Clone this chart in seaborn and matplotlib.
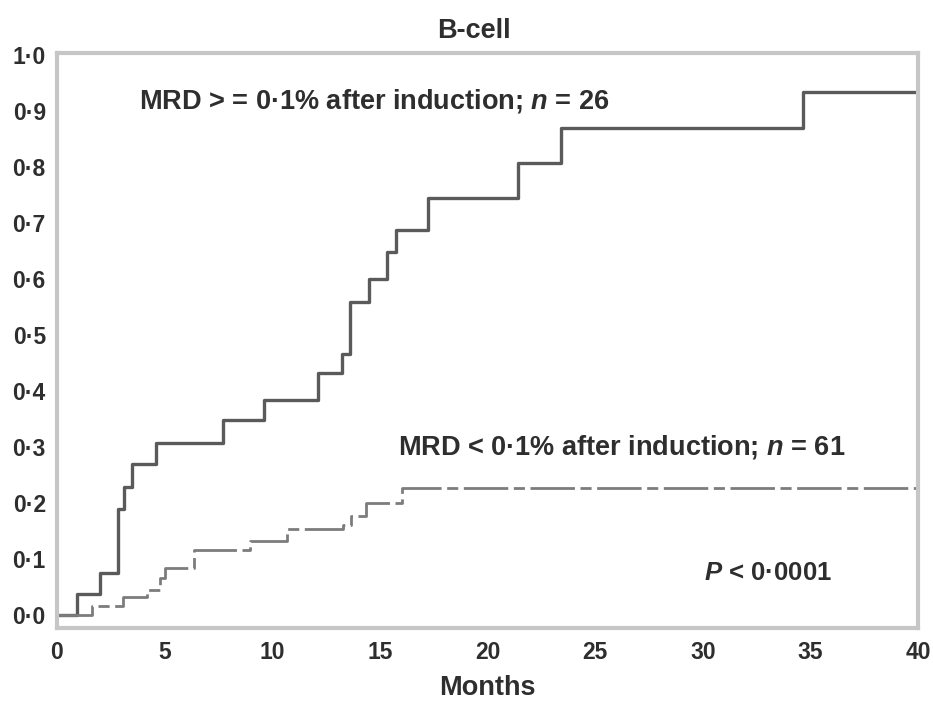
import matplotlib
matplotlib.use("Agg")
import matplotlib.pyplot as plt
from matplotlib import font_manager
import numpy as np
import pandas as pd
import seaborn as sns

# Cumulative incidence, MRD >= 0.1% after induction (n = 26)
high_months = [0, 0.95, 2.0, 2.85, 3.1, 3.5, 4.6, 7.7, 9.6, 12.15, 13.25, 13.6,
               14.5, 15.35, 15.75, 17.25, 21.4, 23.4, 34.65, 40]
high_incidence = [0, 0.039, 0.076, 0.190, 0.229, 0.270, 0.307, 0.348, 0.385, 0.432,
                  0.467, 0.559, 0.600, 0.648, 0.688, 0.745, 0.807, 0.870, 0.934, 0.934]

# Cumulative incidence, MRD < 0.1% after induction (n = 61)
low_months = [0, 1.63, 3.07, 4.2, 4.8, 5.0, 6.37, 8.98, 10.7, 13.3, 13.65, 14.37, 16.05, 40]
low_incidence = [0, 0.016, 0.032, 0.046, 0.066, 0.084, 0.116, 0.132, 0.154, 0.162,
                 0.178, 0.200, 0.228, 0.228]

x_ticks = [0, 5, 10, 15, 20, 25, 30, 35, 40]
x_tick_labels = ["0", "5", "10", "15", "20", "25", "30", "35", "40"]
y_ticks = [0.0, 0.1, 0.2, 0.3, 0.4, 0.5, 0.6, 0.7, 0.8, 0.9, 1.0]
y_tick_labels = ["0·0", "0·1", "0·2", "0·3", "0·4", "0·5", "0·6", "0·7", "0·8", "0·9", "1·0"]

title = "B-cell"
x_label = "Months"
high_label = "MRD > = 0·1% after induction; $n$ = 26"
low_label = "MRD < 0·1% after induction; $n$ = 61"
p_label = "$P$ < 0·0001"

sns.set_theme(style="white")
installed = {f.name for f in font_manager.fontManager.ttflist}
family = "Liberation Sans" if "Liberation Sans" in installed else "DejaVu Sans"
plt.rcParams["font.family"] = [family, "DejaVu Sans"]
plt.rcParams["font.weight"] = "bold"
plt.rcParams["mathtext.fontset"] = "custom"
plt.rcParams["mathtext.it"] = f"{family}:style=italic:weight=bold"
plt.rcParams["mathtext.rm"] = f"{family}:weight=bold"

text_color = "#2e2e2e"
spine_color = "#c6c6c6"

high_df = pd.DataFrame({"Months": high_months, "Incidence": high_incidence})
low_df = pd.DataFrame({"Months": low_months, "Incidence": low_incidence})

fig = plt.figure(figsize=(9.33, 7.06), dpi=100)
ax = fig.add_axes([0.061, 0.110, 0.923, 0.815])

sns.lineplot(data=high_df, x="Months", y="Incidence", ax=ax, estimator=None, sort=False,
             drawstyle="steps-post", color="#5a5a5a", linewidth=2.4)
sns.lineplot(data=low_df, x="Months", y="Incidence", ax=ax, estimator=None, sort=False,
             drawstyle="steps-post", color="#7c7c7c", linewidth=2.0,
             linestyle=(0, (16, 2, 4, 2)))

ax.set_xlim(0, 40)
ax.set_ylim(-0.023, 1.003)
ax.set_xticks(x_ticks)
ax.set_xticklabels(x_tick_labels)
ax.set_yticks(y_ticks)
ax.set_yticklabels(y_tick_labels)
ax.tick_params(axis="both", direction="in", length=4, width=1.5, color=spine_color,
               labelsize=16.5, labelcolor=text_color)
ax.tick_params(axis="y", pad=8)
ax.tick_params(axis="x", pad=9)

for side in ["left", "right", "top", "bottom"]:
    ax.spines[side].set_visible(True)
    ax.spines[side].set_color(spine_color)
    ax.spines[side].set_linewidth(3)

ax.set_xlabel(x_label, fontsize=19.5, fontweight="bold", color=text_color, labelpad=8)
ax.set_ylabel("")
ax.set_title(title, fontsize=19.5, fontweight="bold", color=text_color, pad=11, x=0.484)

ax.text(3.8, 0.918, high_label, fontsize=19.5, fontweight="bold", color=text_color,
        va="center", ha="left")
ax.text(15.85, 0.30, low_label, fontsize=19.5, fontweight="bold", color=text_color,
        va="center", ha="left")
ax.text(30.05, 0.075, p_label, fontsize=18.5, fontweight="bold", color=text_color,
        va="center", ha="left")

fig.savefig("out.png", dpi=100, facecolor="white")
